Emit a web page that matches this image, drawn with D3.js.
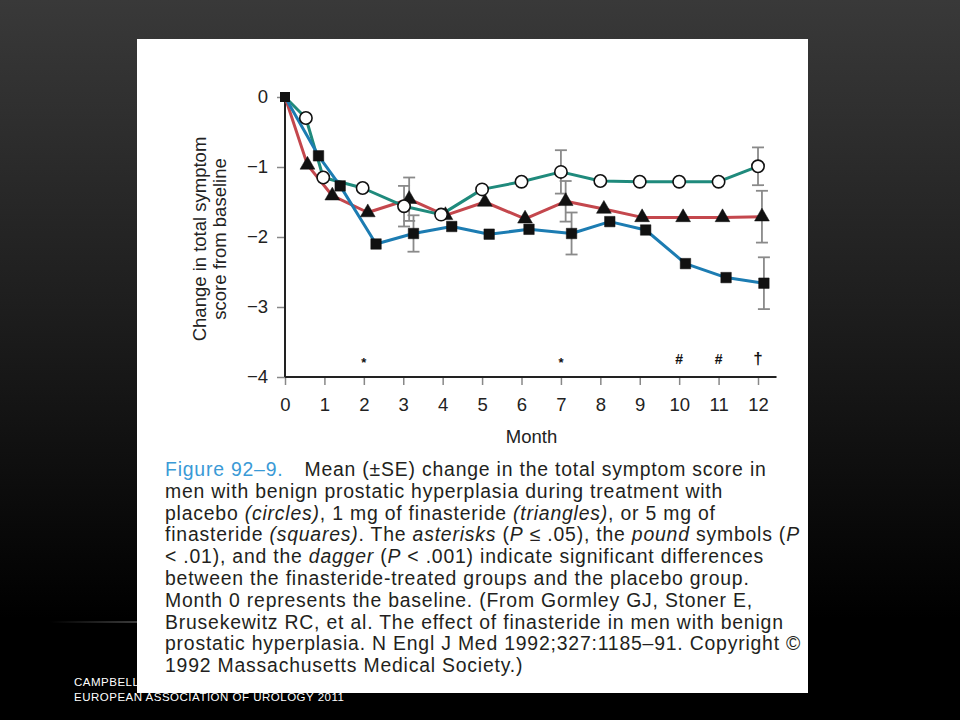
<!DOCTYPE html>
<html><head><meta charset="utf-8">
<script src="https://cdn.jsdelivr.net/npm/d3@7"></script>
<style>html,body{margin:0;padding:0;background:#000;}svg{display:block;}</style>
</head><body>
<script>
// ---- Data ----
const monthTicks = [0,1,2,3,4,5,6,7,8,9,10,11,12];
const yTicks = [0,-1,-2,-3,-4];
const yTickLabels = ["0","\u22121","\u22122","\u22123","\u22124"];

const placeboMonths = [0,0.53,0.97,1.97,3.02,3.96,5,6,7,8,9,10,11,12];
const placeboValues = [0,-0.30,-1.15,-1.30,-1.56,-1.68,-1.32,-1.21,-1.07,-1.20,-1.21,-1.21,-1.21,-0.99];

const fin1Months = [0,0.57,1.2,2.1,3.15,4.07,5.07,6.09,7.12,8.09,9.06,10.1,11.1,12.1];
const fin1Values = [0,-0.97,-1.41,-1.65,-1.46,-1.69,-1.50,-1.74,-1.49,-1.60,-1.72,-1.72,-1.72,-1.71];

const fin5Months = [0,0.85,1.4,2.31,3.26,4.23,5.18,6.19,7.27,8.24,9.15,10.16,11.19,12.15];
const fin5Values = [0,-0.84,-1.27,-2.10,-1.95,-1.85,-1.96,-1.89,-1.95,-1.78,-1.90,-2.38,-2.58,-2.66];

// error bars (SE) at indices of months 3, 7, 12
const seIndex = [4,8,13];
const placeboSE = [0.29,0.31,0.27];
const fin1SE = [0.31,0.29,0.37];
const fin5SE = [0.26,0.30,0.37];

const sigMonths = [2,7,10,11,12];
const sigLabels = ["*","*","#","#","\u2020"];

const captionLines = [
  [["Figure 92\u20139.","b"],["\u2002\u2002Mean (\u00b1SE) change in the total symptom score in",""]],
  [["men with benign prostatic hyperplasia during treatment with",""]],
  [["placebo ",""],["(circles)","i"],[", 1 mg of finasteride ",""],["(triangles)","i"],[", or 5 mg of",""]],
  [["finasteride ",""],["(squares)","i"],[". The ",""],["asterisks","i"],[" (",""],["P","i"],[" \u2264 .05), the ",""],["pound","i"],[" symbols (",""],["P","i"]],
  [["< .01), and the ",""],["dagger","i"],[" (",""],["P","i"],[" < .001) indicate significant differences",""]],
  [["between the finasteride-treated groups and the placebo group.",""]],
  [["Month 0 represents the baseline. (From Gormley GJ, Stoner E,",""]],
  [["Brusekewitz RC, et al. The effect of finasteride in men with benign",""]],
  [["prostatic hyperplasia. N Engl J Med 1992;327:1185\u201391. Copyright \u00a9",""]],
  [["1992 Massachusetts Medical Society.)",""]]
];

// ---- Drawing ----
const W = 960, H = 720;
const svg = d3.select("body").append("svg").attr("width", W).attr("height", H);
const defs = svg.append("defs");
const bg = defs.append("linearGradient").attr("id","bg").attr("x1",0).attr("x2",0).attr("y1",0).attr("y2",1);
bg.append("stop").attr("offset","0").attr("stop-color","#393939");
bg.append("stop").attr("offset","0.45").attr("stop-color","#1c1c1c");
bg.append("stop").attr("offset","0.86").attr("stop-color","#000");
svg.append("rect").attr("width",W).attr("height",H).attr("fill","url(#bg)");

const hl = defs.append("linearGradient").attr("id","hl");
hl.append("stop").attr("offset","0").attr("stop-color","#555").attr("stop-opacity",0);
hl.append("stop").attr("offset","1").attr("stop-color","#555").attr("stop-opacity",0.8);
svg.append("rect").attr("x",50).attr("y",621).attr("width",100).attr("height",2).attr("fill","url(#hl)");

// footer text
const foot = svg.append("g").attr("fill","#fff").attr("font-family","Liberation Sans, Arial, sans-serif")
  .attr("font-size",11.5).attr("letter-spacing",0.5);
foot.append("text").attr("x",74).attr("y",686).text("CAMPBELL");
foot.append("text").attr("x",74).attr("y",701).text("EUROPEAN ASSOCIATION OF UROLOGY 2011");

// white panel
svg.append("rect").attr("x",137).attr("y",39).attr("width",671).attr("height",654).attr("fill","#fff");

const x = d3.scaleLinear().domain([0,12]).range([285,758]);
const y = d3.scaleLinear().domain([-4,0]).range([377,97]);

const font = "Liberation Sans, Arial, Helvetica, sans-serif";
const fs = 18.5;

// axes
const xAxis = svg.append("g").attr("transform",`translate(0,${y(-4)})`)
  .call(d3.axisBottom(x).tickValues(monthTicks).tickFormat(d3.format("d")).tickSize(8).tickSizeOuter(0).tickPadding(13));
xAxis.select(".domain").remove();
xAxis.selectAll(".tick line").attr("stroke","#888").attr("stroke-width",1.5);
xAxis.selectAll(".tick text").attr("font-family",font).attr("font-size",fs).attr("fill","#222");
svg.append("line").attr("x1",x(0)).attr("x2",x(12.47)).attr("y1",y(-4)).attr("y2",y(-4))
  .attr("stroke","#222").attr("stroke-width",2);

const yAxis = svg.append("g").attr("transform",`translate(${x(0)},0)`)
  .call(d3.axisLeft(y).tickValues(yTicks).tickFormat((d,i)=>yTickLabels[i]).tickSize(8).tickSizeOuter(0).tickPadding(9));
yAxis.select(".domain").remove();
yAxis.selectAll(".tick line").attr("stroke","#888").attr("stroke-width",1.5);
yAxis.selectAll(".tick text").attr("font-family",font).attr("font-size",fs).attr("fill","#222");
svg.append("line").attr("x1",x(0)).attr("x2",x(0)).attr("y1",y(0)).attr("y2",y(-4))
  .attr("stroke","#222").attr("stroke-width",2);

// axis titles
svg.append("text").attr("x",(x(0)+x(12))/2+10).attr("y",443).attr("text-anchor","middle")
  .attr("font-family",font).attr("font-size",fs).attr("fill","#222").text("Month");
[["Change in total symptom",206],["score from baseline",226]].forEach(([t,cx])=>{
  svg.append("text").attr("transform",`translate(${cx},${y(-2)+2}) rotate(-90)`)
    .attr("text-anchor","middle").attr("font-family",font).attr("font-size",fs).attr("fill","#222").text(t);
});

// series
const series = [
  {months:fin1Months, values:fin1Values, se:fin1SE, color:"#c4474d", shape:"tri"},
  {months:placeboMonths, values:placeboValues, se:placeboSE, color:"#1f8a7c", shape:"circ"},
  {months:fin5Months, values:fin5Values, se:fin5SE, color:"#1c7cb2", shape:"sq"}
];
const line = d3.line().x(d=>x(d[0])).y(d=>y(d[1]));
series.forEach(s=>{
  svg.append("path").datum(s.months.map((m,i)=>[m,s.values[i]]))
    .attr("d",line).attr("fill","none").attr("stroke",s.color).attr("stroke-width",3).attr("stroke-linejoin","round");
});
// error bars
const eb = svg.append("g").attr("stroke","#8a8a8a").attr("stroke-width",1.8);
series.forEach(s=>{
  seIndex.forEach((idx,k)=>{
    const cx = x(s.months[idx]), v = s.values[idx], e = s.se[k];
    eb.append("line").attr("x1",cx).attr("x2",cx).attr("y1",y(v+e)).attr("y2",y(v-e));
    eb.append("line").attr("x1",cx-6).attr("x2",cx+6).attr("y1",y(v+e)).attr("y2",y(v+e));
    eb.append("line").attr("x1",cx-6).attr("x2",cx+6).attr("y1",y(v-e)).attr("y2",y(v-e));
  });
});
// markers
const sym = {tri:d3.symbolTriangle, circ:d3.symbolCircle, sq:d3.symbolSquare};
const size = {tri:95, circ:120, sq:110};
series.forEach(s=>{
  svg.append("g").selectAll("path").data(s.months.map((m,i)=>[m,s.values[i]]).filter(d=>d[0]>0))
    .join("path")
    .attr("transform",d=>`translate(${x(d[0])},${y(d[1])})`)
    .attr("d",d3.symbol().type(sym[s.shape]).size(size[s.shape]))
    .attr("fill",s.shape==="circ"?"#fff":"#111")
    .attr("stroke","#111").attr("stroke-width",s.shape==="circ"?1.6:0.5);
});
// baseline square
svg.append("path").attr("transform",`translate(${x(0)},${y(0)})`)
  .attr("d",d3.symbol().type(d3.symbolSquare).size(100)).attr("fill","#111");

// significance markers
svg.append("g").selectAll("text").data(sigMonths).join("text")
  .attr("x",d=>x(d)).attr("y",(d,i)=>sigLabels[i]==="*"?y(-3.86):y(-3.82)).attr("text-anchor","middle")
  .attr("font-family",font).attr("font-weight","bold")
  .attr("font-size",(d,i)=>sigLabels[i]==="*"?13:(sigLabels[i]==="#"?14:17)).attr("fill","#111")
  .text((d,i)=>sigLabels[i]);

// caption
const cap = svg.append("g").attr("font-family","Liberation Sans, Arial, sans-serif").attr("font-size",19.4)
  .attr("letter-spacing",0.8).attr("fill","#231f20");
captionLines.forEach((ln,i)=>{
  const t = cap.append("text").attr("x",165).attr("y",476+i*21.8);
  ln.forEach(([s,f])=>{
    const sp = t.append("tspan").text(s);
    if(f==="i") sp.attr("font-style","italic");
    if(f==="b") sp.attr("fill","#3a9ad6");
  });
});
</script>
</body></html>
